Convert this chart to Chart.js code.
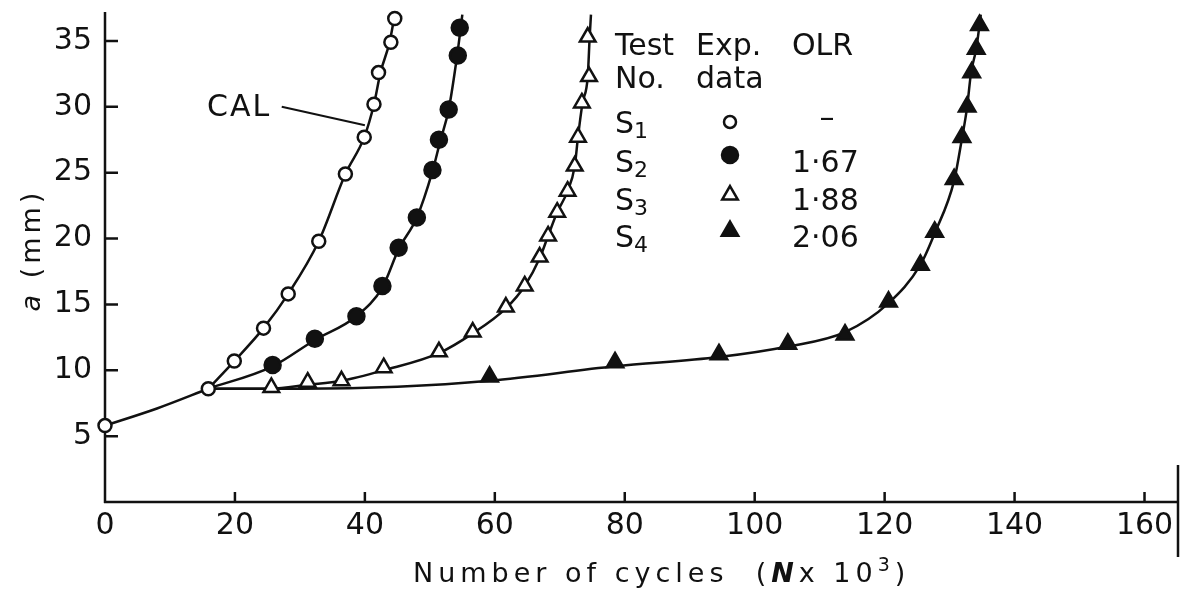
<!DOCTYPE html>
<html>
<head>
<meta charset="utf-8">
<script src="https://cdn.jsdelivr.net/npm/chart.js@4.4.1/dist/chart.umd.min.js"></script>
<style>
  html, body { margin: 0; padding: 0; background: #fff; }
</style>
</head>
<body>
<canvas id="crackChart" width="1181" height="595"></canvas>
<script>
// crack length a (mm) against number of cycles (N x 10^3)
const s1Cycles = [0, 15.9, 19.9, 24.4, 28.2, 32.9, 37.0, 39.9, 41.4, 42.1, 44.0, 44.6];
const s1Crack  = [5.8, 8.6, 10.7, 13.2, 15.8, 19.8, 24.9, 27.7, 30.2, 32.6, 34.9, 36.7];

const s2Cycles = [25.8, 32.3, 38.7, 42.7, 45.2, 48.0, 50.4, 51.4, 52.9, 54.3, 54.6];
const s2Crack  = [10.4, 12.4, 14.1, 16.4, 19.3, 21.6, 25.2, 27.5, 29.8, 33.9, 36.0];

const s3Cycles = [25.6, 31.2, 36.4, 42.9, 51.4, 56.6, 61.7, 64.6, 66.9, 68.2, 69.6, 71.2, 72.3, 72.8, 73.4, 74.5, 74.3];
const s3Crack  = [8.7, 9.1, 9.2, 10.2, 11.4, 12.9, 14.8, 16.4, 18.6, 20.2, 22.0, 23.6, 25.5, 27.7, 30.3, 32.3, 35.3];

const s4Cycles = [59.2, 78.5, 94.5, 105.1, 113.9, 120.6, 125.5, 127.7, 130.7, 131.9, 132.7, 133.4, 134.1, 134.6];
const s4Crack  = [9.5, 10.6, 11.2, 12.0, 12.7, 15.2, 18.0, 20.5, 24.5, 27.7, 30.0, 32.6, 34.4, 36.2];

// calculated (CAL) curves
const commonCurveX = [0, 8, 15.9];
const commonCurveY = [5.8, 7.1, 8.6];
const calS1X = [15.9, 19.9, 24.4, 28.2, 32.9, 37.0, 39.9, 41.4, 42.4, 43.8, 44.6];
const calS1Y = [8.6, 10.7, 13.2, 15.8, 19.8, 24.9, 27.7, 30.2, 32.6, 34.9, 37.0];
const calS2X = [15.9, 25.8, 32.3, 38.7, 42.7, 45.2, 48.0, 50.4, 51.6, 52.9, 54.2, 55.0];
const calS2Y = [8.6, 10.3, 12.3, 14.1, 16.3, 19.2, 21.6, 25.1, 27.4, 29.8, 33.9, 37.0];
const calS3X = [15.9, 25.6, 31.2, 36.4, 42.9, 51.4, 56.6, 61.7, 64.6, 66.9, 68.2, 69.6, 71.2, 72.3, 72.8, 73.5, 74.3, 74.6, 74.8];
const calS3Y = [8.6, 8.6, 8.9, 9.2, 10.0, 11.3, 12.8, 14.7, 16.4, 18.5, 20.2, 22.0, 23.6, 25.5, 27.7, 30.3, 32.3, 35.3, 37.0];
const calS4X = [15.9, 30, 45, 59.2, 78.5, 94.5, 105.1, 113.9, 120.6, 125.5, 127.7, 130.7, 131.9, 132.7, 133.3, 134.1, 134.8];
const calS4Y = [8.6, 8.6, 8.75, 9.2, 10.3, 11.0, 11.8, 12.9, 15.1, 18.0, 20.4, 24.4, 27.6, 30.0, 32.6, 34.4, 37.0];

const xTickValues = [0, 20, 40, 60, 80, 100, 120, 140, 160];
const yTickValues = [5, 10, 15, 20, 25, 30, 35];

// legend table
const legendTests = ['1', '2', '3', '4'];
const legendOLR = ['–', '1·67', '1·88', '2·06'];

const FONT = "'DejaVu Sans', sans-serif";
const ink = '#111';

const pts = (xs, ys) => xs.map((x, i) => ({ x: x, y: ys[i] }));

function curve(xs, ys) {
    return {
        data: pts(xs, ys),
        showLine: true,
        borderColor: ink,
        borderWidth: 2.5,
        pointRadius: 0,
        cubicInterpolationMode: 'monotone',
        clip: false,
        order: 2
    };
}

const markerStyles = [
    { style: 'circle', radius: 6.5, fill: '#fff' },
    { style: 'circle', radius: 8, fill: ink },
    { style: 'triangle', radius: 9, fill: '#fff' },
    { style: 'triangle', radius: 9.5, fill: ink }
];

function markers(xs, ys, m) {
    return {
        data: pts(xs, ys),
        showLine: false,
        pointStyle: m.style,
        pointRadius: m.radius,
        pointBackgroundColor: m.fill,
        pointBorderColor: ink,
        pointBorderWidth: 2.5,
        clip: false,
        order: 1
    };
}

function drawRuns(ctx, runs, x, y) {
    runs.forEach(r => {
        ctx.font = r.font;
        ctx.fillText(r.text, x, y + (r.dy || 0));
        x += ctx.measureText(r.text).width;
    });
    return x;
}

function runsWidth(ctx, runs) {
    let w = 0;
    runs.forEach(r => { ctx.font = r.font; w += ctx.measureText(r.text).width; });
    return w;
}

// no extra room for overhanging tick labels, keep the plot box where the figure has it
function noPadding(scale) {
    scale.paddingLeft = 0;
    scale.paddingRight = 0;
    scale.paddingTop = 0;
    scale.paddingBottom = 0;
}

const figureDecor = {
    id: 'figureDecor',
    beforeDatasetsDraw(chart) {
        const { ctx, chartArea: a, scales: { x, y } } = chart;
        ctx.save();
        ctx.strokeStyle = ink;
        ctx.lineWidth = 2.5;
        ctx.beginPath();
        // axes
        ctx.moveTo(a.left, a.top);
        ctx.lineTo(a.left, a.bottom + 1);
        ctx.moveTo(a.left - 1, a.bottom);
        ctx.lineTo(a.right, a.bottom);
        // bit of frame at the right edge
        ctx.moveTo(a.right + 1, a.bottom - 37);
        ctx.lineTo(a.right + 1, a.bottom + 55);
        // inward tick marks
        xTickValues.forEach(v => {
            if (v === 0) return;
            const px = x.getPixelForValue(v);
            ctx.moveTo(px, a.bottom);
            ctx.lineTo(px, a.bottom - 10);
        });
        yTickValues.forEach(v => {
            const py = y.getPixelForValue(v);
            ctx.moveTo(a.left, py);
            ctx.lineTo(a.left + 13, py);
        });
        ctx.stroke();

        // CAL leader line
        ctx.lineWidth = 2;
        ctx.beginPath();
        ctx.moveTo(x.getPixelForValue(27.2), y.getPixelForValue(30.0));
        ctx.lineTo(x.getPixelForValue(40.0), y.getPixelForValue(28.6));
        ctx.stroke();
        ctx.restore();
    },
    afterDraw(chart) {
        const { ctx, scales: { x, y } } = chart;
        ctx.save();
        ctx.fillStyle = ink;
        ctx.textAlign = 'left';
        ctx.textBaseline = 'alphabetic';

        // CAL label
        ctx.font = '30px ' + FONT;
        ctx.letterSpacing = '2px';
        ctx.fillText('CAL', x.getPixelForValue(15.7), y.getPixelForValue(29.3));

        // x axis title
        ctx.letterSpacing = '5px';
        const normal = '27px ' + FONT;
        drawRuns(ctx, [
            { text: 'Number of cycles  (', font: normal },
            { text: 'N', font: 'italic bold 27px ' + FONT },
            { text: 'x 10', font: normal },
            { text: '3', font: '19px ' + FONT, dy: -11 },
            { text: ')', font: normal }
        ], 413, 582);

        // y axis title
        ctx.letterSpacing = '4px';
        const yRuns = [
            { text: 'a', font: 'italic 27px ' + FONT },
            { text: ' (mm)', font: normal }
        ];
        ctx.translate(40, 250);
        ctx.rotate(-Math.PI / 2);
        drawRuns(ctx, yRuns, -runsWidth(ctx, yRuns) / 2, 0);
        ctx.setTransform(1, 0, 0, 1, 0, 0);

        // legend table
        ctx.letterSpacing = '0px';
        const lf = '30px ' + FONT;
        ctx.font = lf;
        ctx.fillText('Test', 615, 55);
        ctx.fillText('No.', 615, 88);
        ctx.fillText('Exp.', 696, 55);
        ctx.fillText('data', 696, 88);
        ctx.fillText('OLR', 792, 55);

        const rowBase = [133, 172, 210, 247];
        const rowMarkY = [122, 155, 195, 231];
        legendTests.forEach((n, i) => {
            drawRuns(ctx, [
                { text: 'S', font: lf },
                { text: n, font: '22px ' + FONT, dy: 5 }
            ], 615, rowBase[i]);
            ctx.font = lf;
            if (i === 0) {
                ctx.textAlign = 'center';
                ctx.fillText(legendOLR[i], 827, rowBase[i] - 6);
                ctx.textAlign = 'left';
            } else {
                ctx.fillText(legendOLR[i], 792, rowBase[i]);
            }
            const m = markerStyles[i];
            ctx.fillStyle = m.fill;
            ctx.strokeStyle = ink;
            ctx.lineWidth = 2.5;
            Chart.helpers.drawPoint(ctx, {
                pointStyle: m.style,
                radius: i === 0 ? 6 : m.radius,
                rotation: 0,
                borderWidth: 2.5
            }, 730, rowMarkY[i]);
            ctx.fillStyle = ink;
        });
        ctx.restore();
    }
};

const ctx = document.getElementById('crackChart').getContext('2d');

new Chart(ctx, {
    type: 'scatter',
    data: {
        datasets: [
            markers(s1Cycles, s1Crack, markerStyles[0]),
            markers(s2Cycles, s2Crack, markerStyles[1]),
            markers(s3Cycles, s3Crack, markerStyles[2]),
            markers(s4Cycles, s4Crack, markerStyles[3]),
            curve(commonCurveX, commonCurveY),
            curve(calS1X, calS1Y),
            curve(calS2X, calS2Y),
            curve(calS3X, calS3Y),
            curve(calS4X, calS4Y)
        ]
    },
    options: {
        responsive: false,
        animation: false,
        layout: { autoPadding: false, padding: { top: 12, right: 4, left: 0, bottom: 0 } },
        plugins: {
            legend: { display: false },
            tooltip: { enabled: false }
        },
        scales: {
            x: {
                type: 'linear',
                min: 0,
                max: 165,
                afterBuildTicks: scale => { scale.ticks = xTickValues.map(v => ({ value: v })); },
                afterFit: scale => { scale.height = 93; noPadding(scale); },
                grid: { display: false, drawTicks: false },
                border: { display: false },
                ticks: {
                    color: ink,
                    padding: 6,
                    maxRotation: 0,
                    font: { family: FONT, size: 30 }
                }
            },
            y: {
                type: 'linear',
                min: 0,
                max: 37.2,
                afterBuildTicks: scale => { scale.ticks = yTickValues.map(v => ({ value: v })); },
                afterFit: scale => { scale.width = 105; noPadding(scale); },
                grid: { display: false, drawTicks: false },
                border: { display: false },
                ticks: {
                    color: ink,
                    padding: 13,
                    font: { family: FONT, size: 30 }
                }
            }
        }
    },
    plugins: [figureDecor]
});
</script>
</body>
</html>
